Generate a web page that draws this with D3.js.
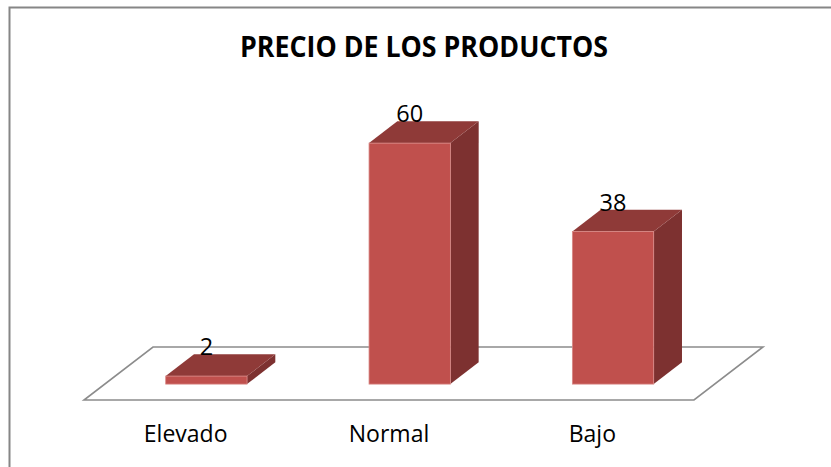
<!DOCTYPE html>
<html>
<head>
<meta charset="utf-8">
<script src="https://cdn.jsdelivr.net/npm/d3@7"></script>
<style>
  html, body { margin: 0; padding: 0; background: #fff; }
  svg { display: block; }
</style>
</head>
<body>
<svg id="chart" width="831" height="467"></svg>
<script>
// Chart data
const title = "PRECIO DE LOS PRODUCTOS";
const categories = ["Elevado", "Normal", "Bajo"];
const values = [2, 60, 38];

const W = 831, H = 467;
const svg = d3.select("#chart");

// Outer frame
svg.append("rect")
  .attr("x", 9.5).attr("y", 7.5)
  .attr("width", W + 10).attr("height", H + 10)
  .attr("fill", "#fff")
  .attr("stroke", "#868686")
  .attr("stroke-width", 2);

// Floor geometry (oblique projection): front edge + depth vector
const floorFrontLeft = 84, floorFrontRight = 694, floorFrontY = 400;
const depth = { dx: 69, dy: -53 };
const barFrontDepth = 0.30;   // fraction of floor depth where bar front faces sit
const barDepth = 0.41;        // thickness of each bar along depth

const x = d3.scaleBand()
  .domain(categories)
  .range([floorFrontLeft, floorFrontRight])
  .paddingInner(0.6)
  .paddingOuter(0.3);

const y = d3.scaleLinear().domain([0, 60]).range([0, 241]);

// Floor plane
const floorPts = [
  [floorFrontLeft, floorFrontY],
  [floorFrontRight, floorFrontY],
  [floorFrontRight + depth.dx, floorFrontY + depth.dy],
  [floorFrontLeft + depth.dx, floorFrontY + depth.dy]
];
svg.append("path")
  .attr("d", d3.line()(floorPts) + "Z")
  .attr("fill", "none")
  .attr("stroke", "#8C8C8C")
  .attr("stroke-width", 1.6);

// 3D bars
const offX = depth.dx * barFrontDepth, offY = depth.dy * barFrontDepth;
const dX = depth.dx * barDepth, dY = depth.dy * barDepth;
const baseY = floorFrontY + offY;

const data = categories.map((c, i) => ({ cat: c, val: values[i] }));

const bars = svg.append("g").selectAll("g").data(data).join("g");

bars.each(function(d) {
  const g = d3.select(this);
  const x0 = x(d.cat) + offX;
  const x1 = x0 + x.bandwidth();
  const yTop = baseY - y(d.val);
  // side face
  g.append("path")
    .attr("d", d3.line()([[x1, baseY], [x1 + dX, baseY + dY], [x1 + dX, yTop + dY], [x1, yTop]]) + "Z")
    .attr("fill", "#7D3130");
  // top face
  g.append("path")
    .attr("d", d3.line()([[x0, yTop], [x1, yTop], [x1 + dX, yTop + dY], [x0 + dX, yTop + dY]]) + "Z")
    .attr("fill", "#8F3A38");
  // front face
  g.append("rect")
    .attr("x", x0).attr("y", yTop)
    .attr("width", x1 - x0).attr("height", y(d.val))
    .attr("fill", "#C0504D")
    .attr("stroke", "#D98986")
    .attr("stroke-width", 0.8);
  // value label
  g.append("text")
    .attr("x", (x0 + x1) / 2)
    .attr("y", yTop + dY + 1)
    .attr("text-anchor", "middle")
    .attr("font-family", "'Open Sans', sans-serif")
    .attr("font-size", 23.5)
    .attr("fill", "#000")
    .text(d.val);
});

// Category labels along the floor's front edge
svg.append("g").selectAll("text").data(categories).join("text")
  .attr("x", d => x(d) + x.bandwidth() / 2)
  .attr("y", 442)
  .attr("text-anchor", "middle")
  .attr("font-family", "'Open Sans', sans-serif")
  .attr("font-size", 23)
  .attr("fill", "#000")
  .text(d => d);

// Title
svg.append("text")
  .attr("x", 424)
  .attr("y", 57)
  .attr("text-anchor", "middle")
  .attr("font-family", "'Open Sans', sans-serif")
  .attr("font-weight", "bold")
  .attr("font-size", 28)
  .attr("textLength", 368)
  .attr("lengthAdjust", "spacingAndGlyphs")
  .attr("fill", "#000")
  .text(title);
</script>
</body>
</html>
